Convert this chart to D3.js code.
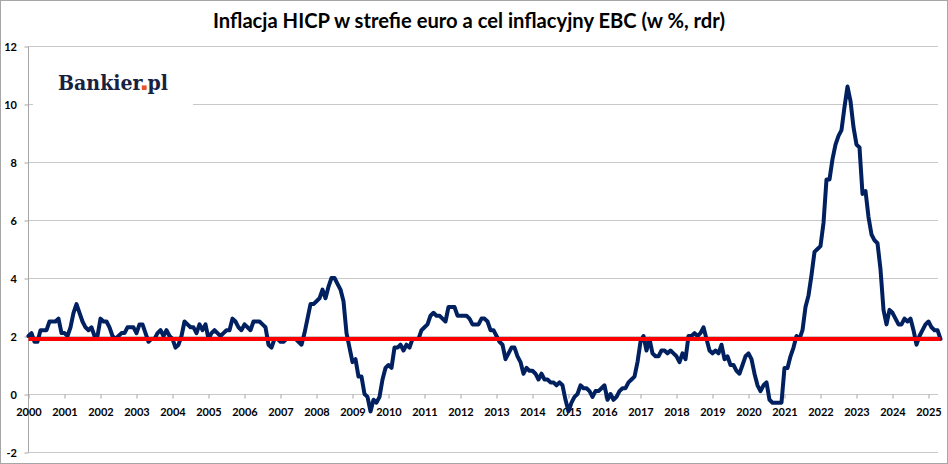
<!DOCTYPE html>
<html>
<head>
<meta charset="utf-8">
<script src="https://cdn.jsdelivr.net/npm/d3@7"></script>
<style>
  html, body { margin: 0; padding: 0; background: #fff; }
  svg { display: block; }
  text { font-family: Lato, "Open Sans", "Liberation Sans", sans-serif; }
</style>
</head>
<body>
<svg id="chart" width="948" height="464"></svg>
<script>
// ---- DATA ----
const title = "Inflacja HICP w strefie euro a cel inflacyjny EBC (w %, rdr)";
const logoText = "Bankier.pl";
const startYear = 2000;
const yearLabels = d3.range(2000, 2026).map(String);
const yTickValues = [-2, 0, 2, 4, 6, 8, 10, 12];
const targetRate = 1.9;

const hicp2000_2004 = [
  2.0, 2.1, 1.8, 1.8, 2.2, 2.2, 2.2, 2.5, 2.5, 2.5, 2.6, 2.1,
  2.1, 2.0, 2.3, 2.8, 3.1, 2.8, 2.5, 2.3, 2.2, 2.3, 2.0, 2.0,
  2.6, 2.5, 2.5, 2.3, 2.0, 1.9, 2.0, 2.1, 2.1, 2.3, 2.3, 2.3,
  2.1, 2.4, 2.4, 2.1, 1.8, 1.9, 1.9, 2.1, 2.2, 2.0, 2.2, 2.0,
  1.9, 1.6, 1.7, 2.0, 2.5, 2.4, 2.3, 2.3, 2.1, 2.4, 2.2, 2.4
];
const hicp2005_2009 = [
  1.9, 2.1, 2.2, 2.1, 2.0, 2.1, 2.2, 2.2, 2.6, 2.5, 2.3, 2.2,
  2.4, 2.3, 2.2, 2.5, 2.5, 2.5, 2.4, 2.3, 1.7, 1.6, 1.9, 1.9,
  1.8, 1.8, 1.9, 1.9, 1.9, 1.9, 1.8, 1.7, 2.1, 2.6, 3.1, 3.1,
  3.2, 3.3, 3.6, 3.3, 3.7, 4.0, 4.0, 3.8, 3.6, 3.2, 2.1, 1.6,
  1.1, 1.2, 0.6, 0.6, 0.0, -0.1, -0.6, -0.2, -0.3, -0.1, 0.5, 0.9
];
const hicp2010_2014 = [
  1.0, 0.9, 1.6, 1.6, 1.7, 1.5, 1.7, 1.6, 1.9, 1.9, 1.9, 2.2,
  2.3, 2.4, 2.7, 2.8, 2.7, 2.7, 2.6, 2.5, 3.0, 3.0, 3.0, 2.7,
  2.7, 2.7, 2.7, 2.6, 2.4, 2.4, 2.4, 2.6, 2.6, 2.5, 2.2, 2.2,
  2.0, 1.8, 1.7, 1.2, 1.4, 1.6, 1.6, 1.3, 1.1, 0.7, 0.9, 0.8,
  0.8, 0.7, 0.5, 0.7, 0.5, 0.5, 0.4, 0.4, 0.3, 0.4, 0.3, -0.2
];
const hicp2015_2019 = [
  -0.6, -0.3, -0.1, 0.0, 0.3, 0.2, 0.2, 0.1, -0.1, 0.1, 0.1, 0.2,
  0.3, -0.2, 0.0, -0.2, -0.1, 0.1, 0.2, 0.2, 0.4, 0.5, 0.6, 1.1,
  1.8, 2.0, 1.5, 1.9, 1.4, 1.3, 1.3, 1.5, 1.5, 1.4, 1.5, 1.4,
  1.3, 1.1, 1.4, 1.2, 2.0, 2.0, 2.1, 2.0, 2.1, 2.3, 1.9, 1.5,
  1.4, 1.5, 1.4, 1.7, 1.2, 1.3, 1.0, 1.0, 0.8, 0.7, 1.0, 1.3
];
const hicp2020_2025 = [
  1.4, 1.2, 0.7, 0.3, 0.1, 0.3, 0.4, -0.2, -0.3, -0.3, -0.3, -0.3,
  0.9, 0.9, 1.3, 1.6, 2.0, 1.9, 2.2, 3.0, 3.4, 4.1, 4.9, 5.0,
  5.1, 5.9, 7.4, 7.4, 8.1, 8.6, 8.9, 9.1, 9.9, 10.6, 10.1, 9.2,
  8.6, 8.5, 6.9, 7.0, 6.1, 5.5, 5.3, 5.2, 4.3, 2.9, 2.4, 2.9,
  2.8, 2.6, 2.4, 2.4, 2.6, 2.5, 2.6, 2.2, 1.7, 2.0, 2.2, 2.4,
  2.5, 2.3, 2.2, 2.2, 1.9
];

const hicp = [].concat(hicp2000_2004, hicp2005_2009, hicp2010_2014, hicp2015_2019, hicp2020_2025);
const series = hicp.map((v, i) => ({ m: i, v }));
const lastMonth = hicp.length - 1;

// ---- LAYOUT ----
const W = 948, H = 464;
const plotRight = 938;
const svg = d3.select("#chart");

const x = d3.scaleLinear().domain([0, 300]).range([28.5, 928.5]);
const y = d3.scaleLinear().domain([-2, 12]).range([452, 46]);

// outer border
svg.append("rect").attr("x", 0.5).attr("y", 0.5).attr("width", W - 1).attr("height", H - 1)
  .attr("fill", "#fff").attr("stroke", "#a6a6a6").attr("stroke-width", 1);

// gridlines
svg.append("g").selectAll("line").data(yTickValues).join("line")
  .attr("x1", x(0)).attr("x2", plotRight)
  .attr("y1", d => Math.round(y(d)) + 0.5).attr("y2", d => Math.round(y(d)) + 0.5)
  .attr("stroke", "#c8c8c8").attr("stroke-width", 1.2);

// y axis (left)
const yAxis = d3.axisLeft(y).tickValues(yTickValues).tickSize(4).tickPadding(8).tickFormat(d => String(d));
const gy = svg.append("g").attr("transform", `translate(${x(0)},0.5)`).call(yAxis);
gy.select(".domain").attr("stroke", "#a6a6a6").attr("d", `M-0,${y(12)}V${y(-2)}`);
gy.selectAll(".tick line").attr("stroke", "#a6a6a6");
gy.selectAll(".tick text").attr("font-family", "Lato, 'Open Sans', sans-serif")
  .attr("font-weight", "bold").attr("font-size", 11).attr("fill", "#000").attr("dx", 0.5);

// x axis at zero
const xAxis = d3.axisBottom(x).tickValues(d3.range(0, 301, 12)).tickSize(4).tickPadding(10)
  .tickFormat((d, i) => yearLabels[i]);
const gx = svg.append("g").attr("transform", `translate(0,${Math.round(y(0)) + 0.5})`).call(xAxis);
gx.select(".domain").remove();
gx.selectAll(".tick line").attr("stroke", "#a6a6a6");
gx.selectAll(".tick text").attr("font-family", "Lato, 'Open Sans', sans-serif")
  .attr("font-weight", "bold").attr("font-size", 11).attr("fill", "#000");

// logo box with white background
const logo = svg.append("g");
logo.append("rect").attr("x", 33).attr("y", 58).attr("width", 160).attr("height", 62).attr("fill", "#fff");
const lt = logo.append("text").attr("x", 58).attr("y", 90)
  .attr("font-weight", "bold").attr("font-size", 20)
  .style("font-family", "'DejaVu Serif', 'Liberation Serif', serif")
  .attr("fill", "#16223f")
  .attr("textLength", 110).attr("lengthAdjust", "spacingAndGlyphs")
  .text(logoText);
// orange dot over the period of the logo
const dotIdx = logoText.indexOf(".");
const ext = lt.node().getExtentOfChar(dotIdx);
logo.append("rect")
  .attr("x", ext.x + ext.width / 2 - 2.4).attr("y", 90 - 4.6)
  .attr("width", 4.8).attr("height", 4.6)
  .attr("fill", "#e8532b");

// inflation line
const line = d3.line().x(d => x(d.m)).y(d => y(d.v));
svg.append("path").datum(series)
  .attr("fill", "none").attr("stroke", "#002060").attr("stroke-width", 4)
  .attr("stroke-linejoin", "round").attr("stroke-linecap", "round")
  .attr("d", line);

// ECB target line
const targetSeries = [{ m: 0, v: targetRate }, { m: lastMonth, v: targetRate }];
svg.append("path").datum(targetSeries)
  .attr("fill", "none").attr("stroke", "#ff0000").attr("stroke-width", 4)
  .attr("d", line);

// title
svg.append("text").attr("x", 469).attr("y", 27.5).attr("text-anchor", "middle")
  .attr("font-weight", "bold").attr("font-size", 20).attr("fill", "#000")
  .attr("textLength", 512).attr("lengthAdjust", "spacingAndGlyphs")
  .text(title);
</script>
</body>
</html>
